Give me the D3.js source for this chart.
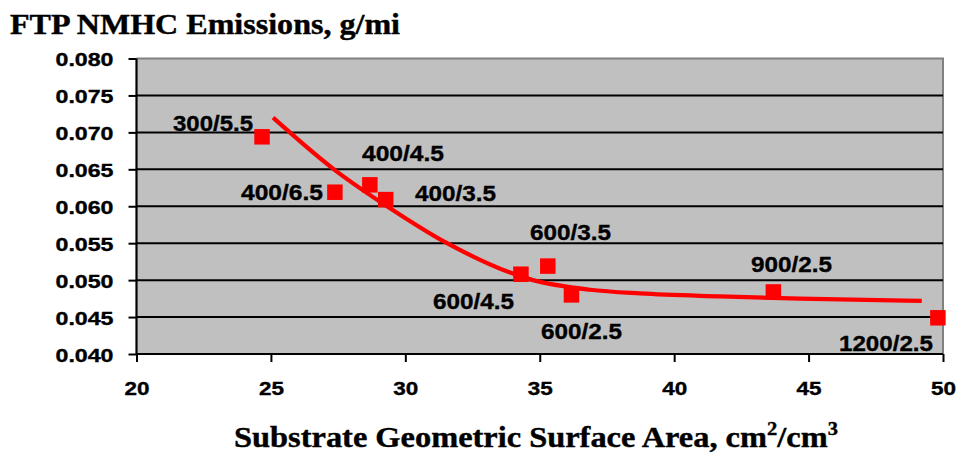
<!DOCTYPE html>
<html><head><meta charset="utf-8">
<script src="https://cdn.jsdelivr.net/npm/d3@7"></script>
<style>body{margin:0;background:#fff}svg{display:block}</style>
</head><body>
<svg id="c" width="960" height="454"></svg>
<script>
// ---- data ----
const pointLabels = ["300/5.5","400/6.5","400/4.5","400/3.5","600/4.5","600/3.5","600/2.5","900/2.5","1200/2.5"];
const pointX = [24.67, 27.38, 28.68, 29.27, 34.30, 35.30, 36.18, 43.69, 49.81];
const pointY = [0.0694, 0.0619, 0.0629, 0.0609, 0.0508, 0.0519, 0.0480, 0.0484, 0.0449];
const curveX = [25.08, 27.38, 29.36, 31.55, 34.75, 36.87, 38.73, 41.71, 44.68, 49.21];
const curveY = [0.0720, 0.0649, 0.0599, 0.0550, 0.0500, 0.0487, 0.0482, 0.0478, 0.0475, 0.0472];
const xTicks = [20, 25, 30, 35, 40, 45, 50];
const yTicks = [0.040, 0.045, 0.050, 0.055, 0.060, 0.065, 0.070, 0.075, 0.080];
const titleText = "FTP NMHC Emissions, g/mi";
// label layout
const labelPos = [
  {x:253, y:131, a:"end", w:80},
  {x:323, y:199.5, a:"end", w:82},
  {x:362, y:161, a:"start", w:82},
  {x:415, y:200.5, a:"start", w:81},
  {x:514, y:308.5, a:"end", w:81},
  {x:530, y:239.5, a:"start", w:81},
  {x:541, y:339, a:"start", w:81},
  {x:751, y:271.5, a:"start", w:81},
  {x:933, y:350.5, a:"end", w:94}
];

const svg = d3.select("#c");
const L = 136.5, R = 943, T = 58.5, B = 354;
const x = d3.scaleLinear().domain([20, 50]).range([L, R]);
const y = d3.scaleLinear().domain([0.04, 0.08]).range([B, T]);
const SANS = "Liberation Sans, Arial, sans-serif";
const SERIF = "Liberation Serif, Times New Roman, serif";

function fit(sel, w) {
  sel.each(function(){ this.setAttribute("textLength", w); this.setAttribute("lengthAdjust", "spacingAndGlyphs"); });
}

// plot background
svg.append("rect").attr("x", L).attr("y", T).attr("width", R - L).attr("height", B - T).attr("fill", "#C0C0C0");
svg.append("path").attr("d", `M${L},${T}H${R}V${B}`).attr("fill", "none").attr("stroke", "#808080").attr("stroke-width", 2);

// gridlines
svg.append("g").selectAll("line").data(yTicks.filter(d => d > 0.0401 && d < 0.0799)).join("line")
  .attr("x1", L).attr("x2", R).attr("y1", d => y(d)).attr("y2", d => y(d))
  .attr("stroke", "#000").attr("stroke-width", 2);

// axes
const yAxis = d3.axisLeft(y).tickValues(yTicks).tickSize(8).tickFormat(d3.format(".3f"));
const gy = svg.append("g").attr("transform", `translate(${L},0)`).call(yAxis);
gy.select(".domain").attr("stroke", "#000").attr("stroke-width", 2.2).attr("d", `M0,${T}V${B}`);
gy.selectAll(".tick line").attr("stroke", "#000").attr("stroke-width", 2);
gy.selectAll(".tick text").attr("x", -23).attr("dy", "0.40em")
  .attr("font-family", SANS).attr("font-weight", "bold").attr("font-size", 18)
  .attr("fill", "#000").attr("stroke", "#000").attr("stroke-width", 0.35);
fit(gy.selectAll(".tick text"), 58);

const xAxis = d3.axisBottom(x).tickValues(xTicks).tickSize(8).tickFormat(d3.format("d"));
const gx = svg.append("g").attr("transform", `translate(0,${B})`).call(xAxis);
gx.select(".domain").attr("stroke", "#000").attr("stroke-width", 2.2).attr("d", `M${L},0H${R}`);
gx.selectAll(".tick line").attr("stroke", "#000").attr("stroke-width", 2);
gx.selectAll(".tick text").attr("y", 41).attr("dy", 0)
  .attr("font-family", SANS).attr("font-weight", "bold").attr("font-size", 18)
  .attr("fill", "#000").attr("stroke", "#000").attr("stroke-width", 0.35);
fit(gx.selectAll(".tick text"), 25);

// curve
const pts = curveX.map((v, i) => [v, curveY[i]]);
svg.append("path").datum(pts)
  .attr("d", d3.line().x(d => x(d[0])).y(d => y(d[1])).curve(d3.curveMonotoneX))
  .attr("fill", "none").attr("stroke", "#FF0000").attr("stroke-width", 4.2).attr("stroke-linecap", "butt");

// markers
const S = 15.5;
svg.append("g").selectAll("rect").data(pointX.map((v, i) => [v, pointY[i]])).join("rect")
  .attr("x", d => x(d[0]) - S / 2).attr("y", d => y(d[1]) - S / 2)
  .attr("width", S).attr("height", S).attr("fill", "#FF0000");

// data labels
svg.append("g").selectAll("text").data(pointLabels).join("text")
  .attr("x", (d, i) => labelPos[i].x).attr("y", (d, i) => labelPos[i].y)
  .attr("text-anchor", (d, i) => labelPos[i].a)
  .attr("font-family", SANS).attr("font-weight", "bold").attr("font-size", 21.5)
  .attr("fill", "#000").attr("stroke", "#000").attr("stroke-width", 0.35)
  .text(d => d)
  .each(function(d, i){ this.setAttribute("textLength", labelPos[i].w); this.setAttribute("lengthAdjust", "spacingAndGlyphs"); });

// title
const t = svg.append("text").attr("x", 10).attr("y", 34)
  .attr("font-family", SERIF).attr("font-weight", "bold").attr("font-size", 29.5)
  .attr("fill", "#000").attr("stroke", "#000").attr("stroke-width", 0.4)
  .text(titleText);
fit(t, 390);

// x-axis title
const xt = svg.append("text").attr("x", 536).attr("y", 447).attr("text-anchor", "middle")
  .attr("font-family", SERIF).attr("font-weight", "bold").attr("font-size", 30)
  .attr("fill", "#000").attr("stroke", "#000").attr("stroke-width", 0.4);
xt.append("tspan").text("Substrate Geometric Surface Area, cm");
xt.append("tspan").attr("font-size", 19).attr("dy", -12).text("2");
xt.append("tspan").attr("dy", 12).text("/cm");
xt.append("tspan").attr("font-size", 19).attr("dy", -12).text("3");
const bb = xt.node().getBBox();
const k = 604 / bb.width;
xt.attr("transform", `translate(536,0) scale(${k},1) translate(-536,0)`);
</script>
</body></html>
